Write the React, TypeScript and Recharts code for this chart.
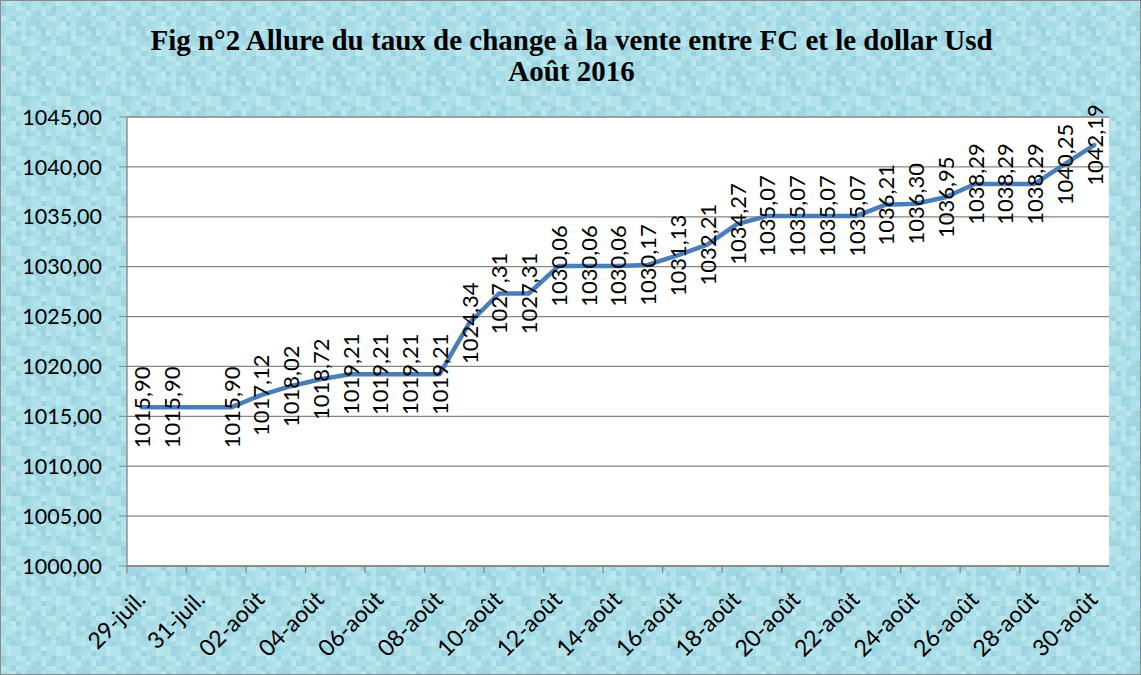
import React from 'react';
import { LineChart, Line, XAxis, YAxis, CartesianGrid, LabelList } from 'recharts';

const dates = [
  '29-juil.', '30-juil.', '31-juil.', '01-août', '02-août', '03-août', '04-août', '05-août', '06-août',
  '07-août', '08-août', '09-août', '10-août', '11-août', '12-août', '13-août', '14-août', '15-août',
  '16-août', '17-août', '18-août', '19-août', '20-août', '21-août', '22-août', '23-août', '24-août',
  '25-août', '26-août', '27-août', '28-août', '29-août', '30-août',
];

const rates: (number | null)[] = [
  1015.90, 1015.90, null, 1015.90, 1017.12, 1018.02, 1018.72, 1019.21, 1019.21,
  1019.21, 1019.21, 1024.34, 1027.31, 1027.31, 1030.06, 1030.06, 1030.06, 1030.17,
  1031.13, 1032.21, 1034.27, 1035.07, 1035.07, 1035.07, 1035.07, 1036.21, 1036.30,
  1036.95, 1038.29, 1038.29, 1038.29, 1040.25, 1042.19,
];

const yTicks = [1000, 1005, 1010, 1015, 1020, 1025, 1030, 1035, 1040, 1045];

const titleLine1 = 'Fig n°2 Allure du taux de change à la vente entre FC et le dollar Usd';
const titleLine2 = 'Août 2016';

const data = dates.map((d, i) => ({ date: d, rate: rates[i] }));

const fmt = (v: number) => v.toFixed(2).replace('.', ',');

const W = 1141;
const H = 675;
const HALF_BAND = 14.88;
const FONT = 'Lato, "Liberation Sans", sans-serif';

// decorative mottled background tile (10x10 cells of 5px)
const SHADES = ['#a8dce7', '#b5e3ec', '#a1d7e3', '#bce7ef', '#addfe9', '#9cd3df', '#b1e1ea', '#a6dae5'];
const TILE_ORDER = [
  0, 3, 1, 6, 2, 7, 4, 1, 5, 0,
  5, 0, 7, 3, 1, 2, 6, 4, 1, 6,
  2, 4, 4, 0, 4, 3, 7, 5, 3, 2,
  3, 4, 5, 1, 6, 0, 2, 7, 7, 1,
  0, 4, 3, 5, 1, 2, 2, 5, 6, 7,
  0, 1, 3, 6, 6, 7, 3, 2, 5, 4,
  0, 1, 4, 2, 1, 5, 7, 6, 5, 3,
  6, 2, 0, 7, 3, 4, 1, 0, 2, 5,
  1, 7, 5, 2, 0, 6, 3, 4, 7, 0,
  4, 3, 6, 1, 5, 2, 0, 7, 3, 6,
];
const tileSvg =
  `<svg xmlns='http://www.w3.org/2000/svg' width='50' height='50'>` +
  TILE_ORDER.map((s, i) => `<rect x='${(i % 10) * 5}' y='${Math.floor(i / 10) * 5}' width='5' height='5' fill='${SHADES[s]}'/>`).join('') +
  `</svg>`;
const tileUrl = `url("data:image/svg+xml;utf8,${encodeURIComponent(tileSvg)}")`;

const XTick = (props: any) => {
  const { x, y, payload } = props;
  const ax = x + 5;
  const ay = y + 27;
  return (
    <g>
      <line x1={x - HALF_BAND} x2={x - HALF_BAND} y1={y - 8} y2={y - 1} stroke="#868686" strokeWidth={1.3} />
      <text
        x={ax}
        y={ay}
        transform={`rotate(-45 ${ax} ${ay})`}
        textAnchor="end"
        fontSize={23}
        fontFamily={FONT}
        fill="#000"
      >
        {payload.value}
      </text>
    </g>
  );
};

const DataLabel = (props: any) => {
  const { x, y, value } = props;
  if (value === null || value === undefined) return null;
  return (
    <text
      x={x}
      y={y}
      transform={`rotate(-90 ${x} ${y})`}
      textAnchor="middle"
      dominantBaseline="central"
      fontSize={22}
      fontFamily={FONT}
      fill="#000"
    >
      {fmt(Number(value))}
    </text>
  );
};

export default function App() {
  return (
    <div
      style={{
        position: 'absolute',
        left: 0,
        top: 0,
        width: W,
        height: H,
        boxSizing: 'border-box',
        border: '1px solid #8a8a8a',
        backgroundColor: '#aadde8',
        backgroundImage: tileUrl,
        overflow: 'hidden',
      }}
    >
      <div
        style={{
          position: 'absolute',
          left: 0,
          width: W,
          top: 24,
          textAlign: 'center',
          fontFamily: '"Liberation Serif", serif',
          fontWeight: 'bold',
          fontSize: 29,
          lineHeight: '31px',
          color: '#000',
        }}
      >
        <div>{titleLine1}</div>
        <div>{titleLine2}</div>
      </div>
      <div style={{ position: 'absolute', left: -1, top: -1 }}>
        <LineChart width={W} height={H} data={data} margin={{ top: 117, right: 32, bottom: 0, left: 0 }}>
          <CartesianGrid vertical={false} stroke="#868686" fill="#ffffff" strokeWidth={1.3} />
          <XAxis
            dataKey="date"
            height={109}
            interval={1}
            padding={{ left: HALF_BAND, right: HALF_BAND }}
            tick={<XTick />}
            tickLine={false}
            axisLine={{ stroke: '#868686', strokeWidth: 1.3 }}
          />
          <YAxis
            width={127}
            domain={[1000, 1045]}
            ticks={yTicks}
            tickFormatter={fmt}
            tickSize={8}
            tickMargin={17}
            axisLine={{ stroke: '#868686', strokeWidth: 1.3 }}
            tickLine={{ stroke: '#868686' }}
            tick={{ fontSize: 21.5, fontFamily: FONT, fill: '#000' }}
            allowDataOverflow
          />
          <Line
            type="linear"
            dataKey="rate"
            stroke="#4a7ebb"
            strokeWidth={4.5}
            strokeLinejoin="round"
            strokeLinecap="round"
            dot={false}
            connectNulls
            isAnimationActive={false}
          >
            <LabelList dataKey="rate" content={<DataLabel />} />
          </Line>
        </LineChart>
      </div>
    </div>
  );
}
